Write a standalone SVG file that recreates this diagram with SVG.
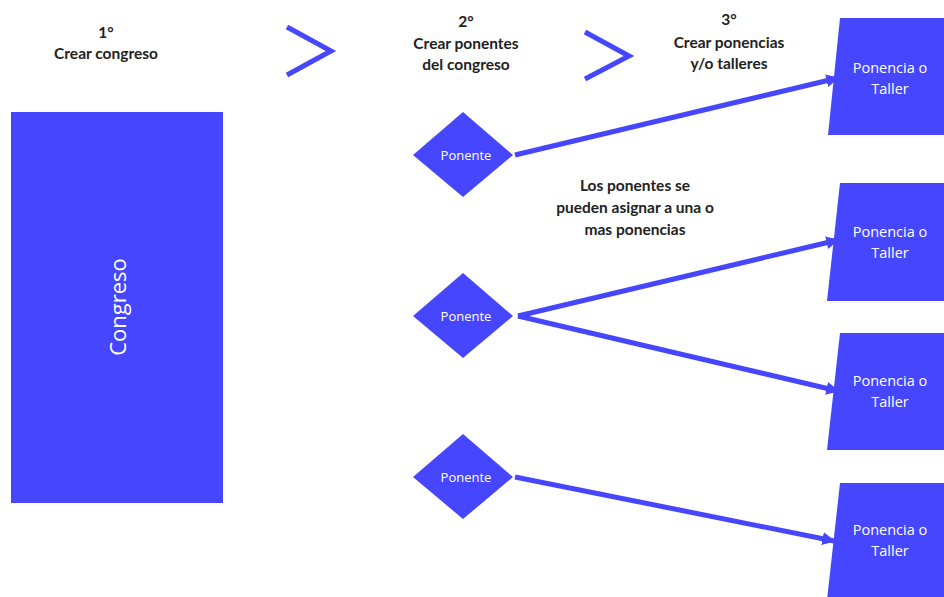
<svg xmlns="http://www.w3.org/2000/svg" width="944" height="597" viewBox="0 0 944 597">
  <style>
    .shape { fill: #4646FF; }
    .step { font-family: Lato, "Liberation Sans", sans-serif; font-weight: bold; font-size: 15.5px; fill: #222; text-anchor: middle; }
    .lbl { font-family: "Open Sans", "Liberation Sans", sans-serif; fill: #ffffff; text-anchor: middle; }
    .conn { stroke: #4646FF; stroke-width: 5; fill: none; }
    .chev { stroke: #4646FF; stroke-width: 5; fill: none; stroke-linejoin: miter; }
  </style>
  <defs>
    <marker id="arrow" viewBox="0 0 10 10" refX="9" refY="5" markerWidth="2.6" markerHeight="2.6" orient="auto" markerUnits="strokeWidth">
      <path d="M0,0 L10,5 L0,10 Z" fill="#4646FF"/>
    </marker>
  </defs>
  <rect width="944" height="597" fill="#ffffff"/>

  <!-- step headings -->
  <g id="headings">
    <text class="step" x="106" y="38">1°</text>
    <text class="step" x="106" y="59">Crear congreso</text>
    <text class="step" x="466" y="27">2°</text>
    <text class="step" x="466" y="49">Crear ponentes</text>
    <text class="step" x="466" y="70">del congreso</text>
    <text class="step" x="729" y="25">3°</text>
    <text class="step" x="729" y="48">Crear ponencias</text>
    <text class="step" x="729" y="69">y/o talleres</text>
    <text class="step" x="635" y="191">Los ponentes se</text>
    <text class="step" x="635" y="213">pueden asignar a una o</text>
    <text class="step" x="635" y="235">mas ponencias</text>
  </g>

  <!-- chevrons between steps -->
  <g id="chevrons">
    <polyline class="chev" points="287,27 331,51 287,75"/>
    <polyline class="chev" points="585,32 629,56 585,79"/>
  </g>

  <g id="congreso">
    <rect class="shape" x="11" y="112" width="212" height="391"/>
    <text class="lbl" font-size="22" transform="translate(126,307) rotate(-90)" text-anchor="middle">Congreso</text>
  </g>

  <g id="ponente1">
    <polygon class="shape" points="413,155 463,112 513,155 463,197"/>
    <text class="lbl" x="466" y="160" font-size="13">Ponente</text>
  </g>
  <g id="ponente2">
    <polygon class="shape" points="413,316 463,273 513,316 463,358"/>
    <text class="lbl" x="466" y="321" font-size="13">Ponente</text>
  </g>
  <g id="ponente3">
    <polygon class="shape" points="413,477 463,434 513,477 463,519"/>
    <text class="lbl" x="466" y="482" font-size="13">Ponente</text>
  </g>

  <g id="ponencia1">
    <polygon class="shape" points="840,18 946,18 950,135 828,135"/>
    <text class="lbl" x="890" y="73" font-size="14.5">Ponencia o</text>
    <text class="lbl" x="890" y="94" font-size="14.5">Taller</text>
  </g>
  <g id="ponencia2">
    <polygon class="shape" points="840,183 946,183 950,301 827,301"/>
    <text class="lbl" x="890" y="237" font-size="14.5">Ponencia o</text>
    <text class="lbl" x="890" y="258" font-size="14.5">Taller</text>
  </g>
  <g id="ponencia3">
    <polygon class="shape" points="840,333 946,333 950,450 827,450"/>
    <text class="lbl" x="890" y="386" font-size="14.5">Ponencia o</text>
    <text class="lbl" x="890" y="407" font-size="14.5">Taller</text>
  </g>
  <g id="ponencia4">
    <polygon class="shape" points="840,483 946,483 950,600 827,600"/>
    <text class="lbl" x="890" y="535" font-size="14.5">Ponencia o</text>
    <text class="lbl" x="890" y="556" font-size="14.5">Taller</text>
  </g>

  <g id="connectors">
    <line class="conn" x1="515" y1="155" x2="838" y2="78" marker-end="url(#arrow)"/>
    <line class="conn" x1="518" y1="316" x2="838" y2="240" marker-end="url(#arrow)"/>
    <line class="conn" x1="518" y1="316" x2="838" y2="391" marker-end="url(#arrow)"/>
    <line class="conn" x1="515" y1="477" x2="834" y2="541" marker-end="url(#arrow)"/>
  </g>
</svg>
